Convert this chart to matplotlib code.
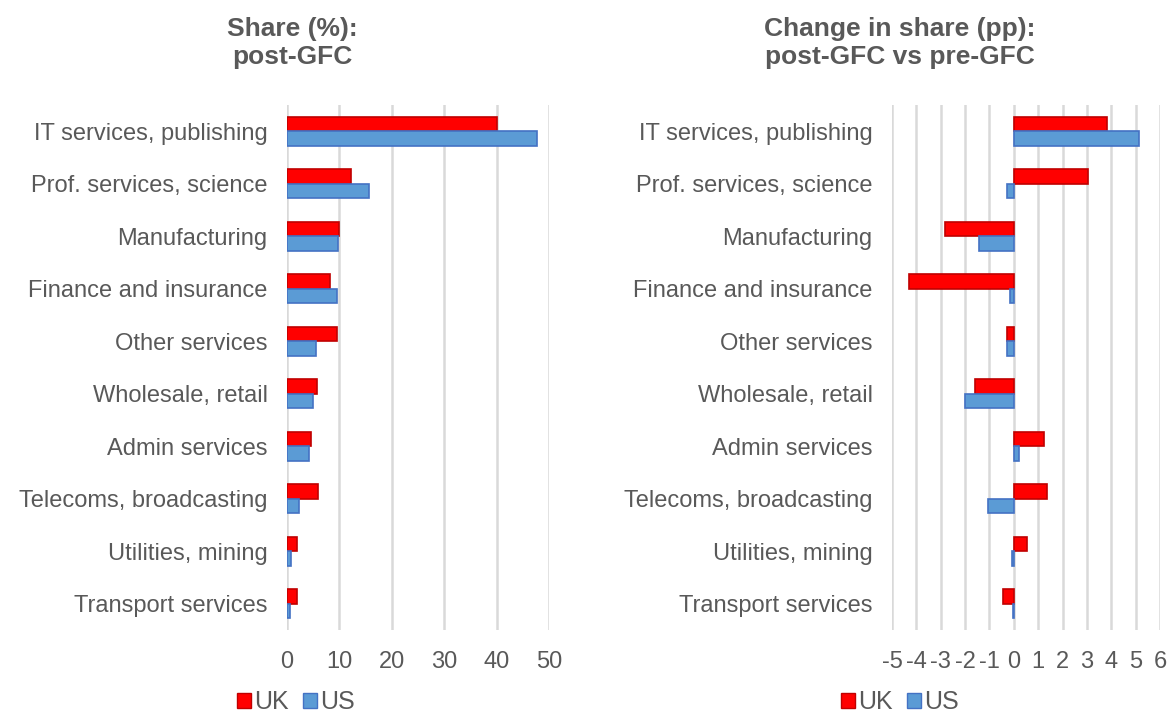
import matplotlib.pyplot as plt
import numpy as np
from matplotlib.patches import Patch

plt.rcParams["font.family"] = ["Liberation Sans", "DejaVu Sans"]

categories = [
    "IT services, publishing",
    "Prof. services, science",
    "Manufacturing",
    "Finance and insurance",
    "Other services",
    "Wholesale, retail",
    "Admin services",
    "Telecoms, broadcasting",
    "Utilities, mining",
    "Transport services",
]

# share of each sector, post-GFC (%)
share_uk = [40.0, 12.2, 10.0, 8.2, 9.6, 5.7, 4.5, 5.9, 2.0, 1.9]
share_us = [47.8, 15.7, 9.7, 9.6, 5.6, 5.0, 4.2, 2.2, 0.8, 0.6]

# change in share, post-GFC vs pre-GFC (pp)
change_uk = [3.82, 3.04, -2.81, -4.29, -0.26, -1.60, 1.23, 1.38, 0.53, -0.45]
change_us = [5.15, -0.30, -1.41, -0.14, -0.30, -1.99, 0.20, -1.07, -0.07, -0.05]

GREY = "#595959"
UK_FILL, UK_EDGE = "#FF0000", "#C00000"
US_FILL, US_EDGE = "#5B9BD5", "#4472C4"

fig = plt.figure(figsize=(11.68, 7.17), dpi=100)
ax1 = fig.add_axes([287 / 1168, 1 - 630 / 717, 262 / 1168, 525 / 717])
ax2 = fig.add_axes([892 / 1168, 1 - 630 / 717, 268 / 1168, 525 / 717])

y = np.arange(len(categories))
h = 0.28


def draw(ax, uk, us, xlim, ticks):
    ax.barh(y - h / 2, uk, height=h, color=UK_FILL, edgecolor=UK_EDGE,
            linewidth=1.2, zorder=3)
    ax.barh(y + h / 2, us, height=h, color=US_FILL, edgecolor=US_EDGE,
            linewidth=1.2, zorder=3)
    ax.set_xlim(*xlim)
    ax.set_ylim(len(categories) - 0.5, -0.5)
    ax.set_xticks(ticks)
    ax.set_xticklabels([str(t) for t in ticks])
    ax.set_yticks(y)
    ax.set_yticklabels(categories)
    ax.tick_params(axis="both", length=0, labelsize=17, labelcolor=GREY)
    ax.tick_params(axis="x", pad=15)
    ax.tick_params(axis="y", pad=14)
    ax.grid(axis="x", color="#D9D9D9", linewidth=1.8, zorder=0)
    for s in ax.spines.values():
        s.set_visible(False)


draw(ax1, share_uk, share_us, (0, 50), list(range(0, 51, 10)))
draw(ax2, change_uk, change_us, (-5, 6), list(range(-5, 7)))

fig.text(292 / 1168, 1 - 43 / 717, "Share (%):\npost-GFC", ha="center",
         va="center", fontsize=19, fontweight="bold", color=GREY,
         linespacing=1.25)
fig.text(900 / 1168, 1 - 43 / 717,
         "Change in share (pp):\npost-GFC vs pre-GFC", ha="center",
         va="center", fontsize=19, fontweight="bold", color=GREY,
         linespacing=1.25)

handles = [Patch(facecolor=UK_FILL, edgecolor=UK_EDGE, label="UK"),
           Patch(facecolor=US_FILL, edgecolor=US_EDGE, label="US")]
for cx in (296, 900):
    fig.legend(handles=handles, loc="center", ncol=2, frameon=False,
               bbox_to_anchor=(cx / 1168, 1 - 702 / 717), fontsize=18,
               labelcolor=GREY, handlelength=0.55, handleheight=0.55,
               handletextpad=0.12, columnspacing=0.6, borderpad=0.1)

fig.savefig("out.png", dpi=100)
